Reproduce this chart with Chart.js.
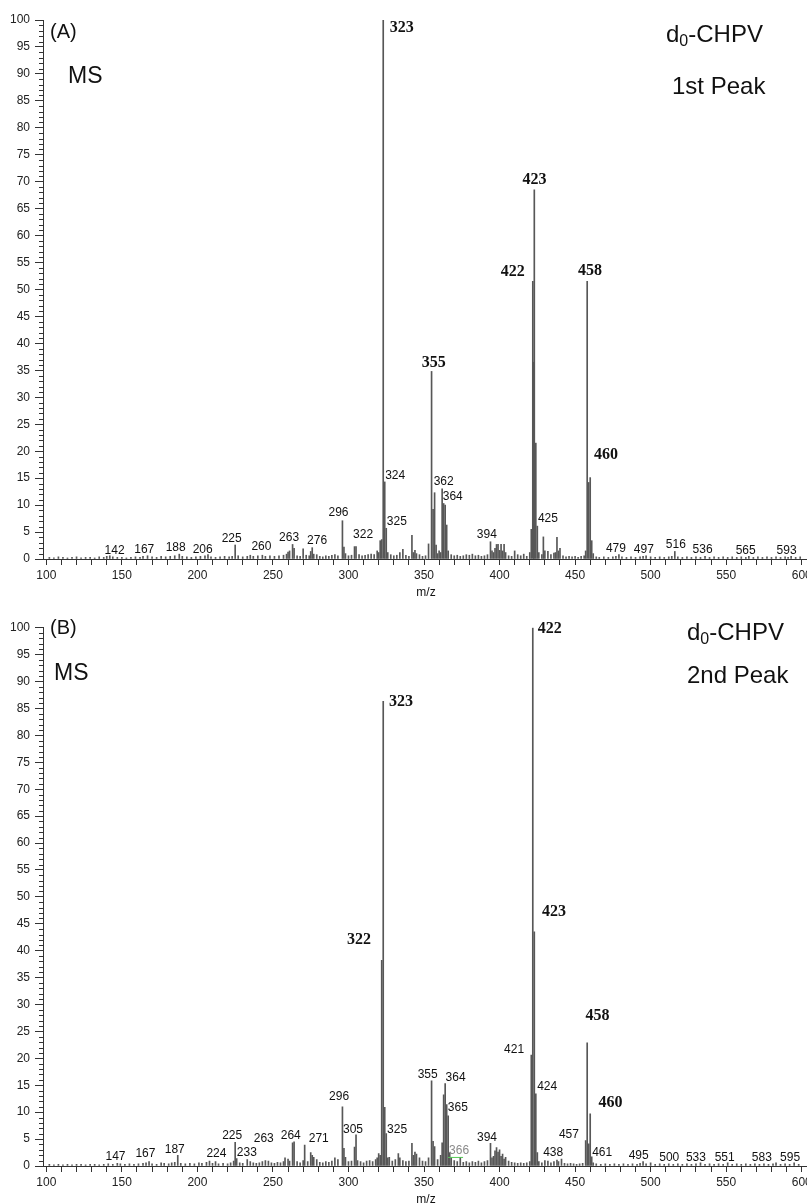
<!DOCTYPE html>
<html>
<head>
<meta charset="utf-8">
<script src="https://cdn.jsdelivr.net/npm/chart.js@4.4.0/dist/chart.umd.min.js"></script>
<style>
  html, body { margin: 0; padding: 0; background: #fff; }
  canvas { display: block; }
</style>
</head>
<body>
<canvas id="chartA" width="807" height="602"></canvas>
<canvas id="chartB" width="807" height="602"></canvas>
<script>
// axis tick labels
const xTickLabels = [100, 150, 200, 250, 300, 350, 400, 450, 500, 550, 600];
const yTickLabels = [0, 5, 10, 15, 20, 25, 30, 35, 40, 45, 50, 55, 60, 65, 70, 75, 80, 85, 90, 95, 100];

// (A) 1st peak: m/z and relative intensity
const mzA = [102,105,108,111,114,117,120,123,126,129,
  132,135,138,140,142,144,147,150,153,156,
  159,162,164,167,170,173,176,179,182,185,
  188,190,193,196,199,202,205,207,209,212,
  215,218,221,223,225,227,230,233,235,237,
  240,243,245,248,251,254,257,259,260,261,
  263,264,266,268,270,272,274,275,276,277,
  279,281,283,285,287,289,291,293,296,297,
  298,300,302,304,305,307,309,311,313,315,
  317,319,320,321,322,323,324,325,326,328,
  330,332,334,336,338,340,342,343,344,345,
  347,349,351,353,355,356,357,358,359,360,
  361,362,363,364,365,366,368,370,372,374,
  376,378,380,382,384,386,388,390,392,394,
  395,396,397,398,399,400,401,402,403,404,
  406,408,410,412,414,416,418,420,421,422,
  422.6,423,424,425,426,428,429,430,432,434,
  436,437,438,439,440,442,444,446,448,450,
  452,454,456,457,458,459,460,461,462,464,
  466,469,472,475,477,479,481,484,487,490,
  493,495,497,500,503,506,509,512,514,516,
  518,521,524,527,530,533,536,539,542,545,
  548,551,554,557,560,563,565,568,571,574,
  577,580,583,586,589,591,593,596,599];
const intA = [0.3,0.2,0.4,0.3,0.2,0.3,0.4,0.2,0.3,0.3,
  0.2,0.4,0.3,0.5,0.6,0.4,0.3,0.3,0.2,0.3,
  0.4,0.3,0.5,0.6,0.4,0.3,0.5,0.4,0.5,0.6,
  0.9,0.5,0.4,0.3,0.4,0.5,0.6,0.8,0.4,0.3,
  0.4,0.5,0.4,0.5,2.6,0.6,0.4,0.5,0.7,0.5,
  0.6,0.7,0.5,0.6,0.5,0.6,0.7,0.9,1.3,1.5,
  2.7,2.0,0.6,0.5,1.9,0.7,0.6,1.4,2.1,0.9,
  0.8,0.5,0.4,0.6,0.5,0.7,0.8,0.6,7.1,2.2,
  1.0,0.6,0.7,2.3,2.3,0.8,0.6,0.7,0.8,0.9,
  0.8,1.5,1.2,3.4,3.6,100,14.3,5.7,1.2,0.8,
  0.6,0.7,1.2,1.8,0.7,0.5,4.4,1.2,1.6,1.0,
  0.8,0.5,0.6,2.8,34.8,9.2,12.3,2.6,1.0,1.5,
  1.2,13.0,10.3,10.0,6.3,1.5,0.8,0.6,0.7,0.5,
  0.6,0.8,0.7,0.9,0.6,0.7,0.5,0.6,0.8,3.2,
  1.5,1.2,2.0,2.7,2.7,1.6,2.7,1.5,2.7,1.2,
  0.6,0.5,1.5,0.8,0.6,0.9,0.5,1.2,5.5,51.5,
  36.5,68.5,21.5,6.1,1.2,0.8,4.1,1.5,1.4,0.8,
  1.1,1.2,4.0,1.5,2.0,0.6,0.4,0.5,0.4,0.5,
  0.3,0.5,0.6,1.5,51.5,14.2,15.1,3.4,1.0,0.4,
  0.3,0.4,0.3,0.4,0.5,0.8,0.4,0.3,0.4,0.3,
  0.4,0.5,0.6,0.4,0.3,0.4,0.3,0.4,0.5,1.4,
  0.4,0.3,0.4,0.3,0.4,0.3,0.5,0.3,0.4,0.3,
  0.4,0.3,0.4,0.3,0.4,0.3,0.5,0.3,0.4,0.3,
  0.4,0.3,0.4,0.3,0.4,0.3,0.5,0.3,0.4];

// (B) 2nd peak
const mzB = [102,105,108,111,114,117,120,123,126,129,
  132,135,138,141,144,147,149,152,155,158,
  161,164,166,168,170,173,176,178,181,183,
  185,187,189,192,195,198,201,203,206,208,
  210,212,214,217,220,222,224,225,226,228,
  230,233,235,237,239,241,243,245,247,249,
  251,253,255,257,258,260,261,263,264,266,
  268,270,271,273,275,276,277,279,281,283,
  285,287,289,291,293,296,297,298,300,302,
  304,305,306,308,310,312,314,316,318,319,
  320,321,322,323,324,325,326,327,329,331,
  333,334,336,338,340,342,343,344,345,347,
  349,351,353,355,356,357,359,361,362,363,
  364,365,366,367,368,370,372,374,376,378,
  380,382,384,386,388,390,392,394,395,396,
  397,398,399,400,401,402,403,404,406,408,
  410,412,414,416,418,420,421,422,423,424,
  425,426,428,430,432,434,436,438,439,441,
  443,445,447,449,451,453,455,457,458,459,
  460,461,462,464,467,470,473,476,479,482,
  485,488,491,493,495,497,500,503,506,509,
  512,515,518,521,524,527,530,533,536,539,
  542,545,548,551,554,557,560,563,566,569,
  572,575,578,581,583,586,589,592,595,598];
const intB = [0.3,0.2,0.3,0.2,0.3,0.2,0.3,0.3,0.2,0.3,
  0.3,0.2,0.3,0.4,0.3,0.5,0.4,0.3,0.4,0.3,
  0.4,0.5,0.6,0.8,0.4,0.3,0.6,0.5,0.4,0.6,
  0.7,2.0,0.5,0.4,0.5,0.4,0.6,0.5,0.7,0.9,
  0.5,0.8,0.4,0.5,0.4,0.6,0.9,4.4,1.4,0.6,
  0.5,1.2,0.8,0.6,0.5,0.6,0.8,1.0,0.9,0.6,
  0.5,0.7,0.6,0.8,1.5,1.3,0.9,4.3,4.5,0.8,
  0.6,1.0,3.9,0.8,2.5,2.0,1.6,1.2,0.7,0.6,
  0.8,0.7,0.9,1.5,1.2,11.0,3.3,1.6,0.8,0.9,
  3.5,5.8,1.0,0.8,0.6,0.9,1.0,0.8,1.2,1.5,
  2.3,2.0,38.2,86.3,10.9,6.0,1.5,1.6,0.9,1.2,
  2.3,1.5,1.0,0.8,0.9,4.2,2.0,2.6,2.2,1.5,
  0.9,0.8,1.5,15.8,4.6,3.6,1.2,2.0,4.3,13.2,
  15.3,11.4,9.3,2.5,1.5,1.0,0.8,1.6,0.7,0.8,
  0.6,0.8,0.7,0.9,0.6,0.8,1.0,4.2,1.5,1.8,
  2.8,3.4,2.6,3.0,1.8,2.2,1.3,1.6,0.9,0.7,
  0.6,0.5,0.6,0.5,0.6,0.8,20.6,100,43.5,13.4,
  2.5,0.8,0.6,1.0,0.9,0.6,0.8,1.1,0.8,1.3,
  0.5,0.4,0.5,0.4,0.3,0.4,0.5,4.7,22.9,4.1,
  9.7,1.7,0.6,0.4,0.3,0.4,0.3,0.4,0.3,0.4,
  0.3,0.4,0.3,0.5,0.8,0.4,0.6,0.3,0.4,0.3,
  0.4,0.3,0.4,0.3,0.4,0.3,0.4,0.6,0.3,0.4,
  0.3,0.4,0.3,0.6,0.3,0.4,0.3,0.4,0.3,0.4,
  0.3,0.4,0.3,0.4,0.6,0.3,0.4,0.3,0.6,0.3];

// peak annotations: text, and where it sits (m/z, intensity)
const annTextA = ['142','167','188','206','225','260','263','276','296','322','323','324','325','355','362','364','394','422','423','425','458','460','479','497','516','536','565','593'];
const annMzA   = [145.2,164.8,185.6,203.5,222.7,242.4,260.7,279.2,293.4,309.7,335.3,330.9,332,356.5,363,369,391.6,408.8,423.2,432,459.8,470.4,477,495.5,516.7,534.4,562.9,590];
const annIntA  = [1.55,1.67,2.1,1.67,3.8,2.3,4.0,3.4,8.5,4.6,98.5,15.5,6.9,36.4,14.3,11.6,4.45,53.2,70.3,7.4,53.4,19.4,2.0,1.67,2.6,1.67,1.5,1.5];

const annTextB = ['147','167','187','224','225','233','263','264','271','296','305','322','323','325','355','364','365','366','394','421','422','423','424','438','457','458','460','461','495','500','533','551','583','595'];
const annMzB   = [145.8,165.6,185,212.6,223,232.7,243.9,261.8,280.3,293.8,303,306.9,334.8,332.2,352.4,370.9,372.4,373.2,391.7,409.6,433.3,436,431.5,435.5,445.9,464.8,473.4,467.9,492.1,512.3,530,549,573.6,592.3];
const annIntB  = [1.7,2.2,3.1,2.2,5.6,2.5,5.1,5.6,5.1,12.8,6.8,42.1,86.3,6.8,16.9,16.4,10.9,2.8,5.3,21.7,99.8,47.2,14.7,2.4,5.9,27.9,11.7,2.5,1.9,1.6,1.6,1.6,1.6,1.6];

const SANS = '"Liberation Sans", Arial, sans-serif';
const SERIF = '"Liberation Serif", "Times New Roman", serif';

const decor = {
  id: 'decor',
  afterDraw(chart) {
    const o = chart.options.plugins.decor;
    const ctx = chart.ctx;
    const x = chart.scales.x, y = chart.scales.y;
    ctx.save();

    // minor ticks on the intensity axis
    ctx.strokeStyle = '#333';
    ctx.lineWidth = 1;
    ctx.beginPath();
    for (let v = 0; v <= 100; v++) {
      if (v % 5 === 0) continue;
      const py = Math.round(y.getPixelForValue(v)) + 0.5;
      ctx.moveTo(x.left - 4, py);
      ctx.lineTo(x.left, py);
    }
    ctx.stroke();

    // peak labels
    ctx.textAlign = 'center';
    ctx.textBaseline = 'middle';
    o.texts.forEach((t, i) => {
      const bold = o.bold.includes(t);
      ctx.font = bold ? 'bold 16px ' + SERIF : '12px ' + SANS;
      ctx.fillStyle = t === o.faint ? '#8a8a8a' : '#111';
      const px = x.getPixelForValue(o.mz[i]);
      const py = y.getPixelForValue(o.val[i]);
      ctx.fillText(t, px, py);
      if (t === o.faint) {
        ctx.strokeStyle = '#5c5';
        ctx.beginPath();
        ctx.moveTo(px - 11, py + 6.5);
        ctx.lineTo(px + 4, py + 6.5);
        ctx.stroke();
      }
    });

    // panel texts
    ctx.textAlign = 'left';
    ctx.fillStyle = '#111';
    ctx.font = '20px ' + SANS;
    ctx.fillText(o.panel, 50, o.panelY);
    ctx.font = '23px ' + SANS;
    ctx.fillText('MS', o.msX, o.msY);
    ctx.font = '24px ' + SANS;
    ctx.fillText('d', o.nameX, o.nameY);
    let w = ctx.measureText('d').width;
    ctx.font = '16px ' + SANS;
    ctx.fillText('0', o.nameX + w, o.nameY + 7);
    w += ctx.measureText('0').width;
    ctx.font = '24px ' + SANS;
    ctx.fillText('-CHPV', o.nameX + w, o.nameY);
    ctx.fillText(o.peak, o.peakX, o.peakY);

    // axis title
    ctx.textAlign = 'center';
    ctx.font = '12px ' + SANS;
    ctx.fillText('m/z', (x.left + x.right) / 2 + 1, y.bottom + 34);
    ctx.restore();
  }
};

function makeChart(id, mz, inten, ann, topPad, xAxisHeight) {
  const minorX = [];
  for (let v = xTickLabels[0]; v <= xTickLabels[xTickLabels.length - 1]; v += 10) minorX.push(v);
  return new Chart(document.getElementById(id), {
    type: 'bar',
    data: {
      datasets: [{
        data: mz.map((m, i) => ({ x: m, y: inten[i] })),
        backgroundColor: '#575757',
        borderWidth: 0,
        barThickness: 1
      }]
    },
    options: {
      responsive: false,
      animation: false,
      layout: { padding: { top: topPad, left: 0, right: 0, bottom: 0 } },
      plugins: {
        legend: { display: false },
        tooltip: { enabled: false },
        decor: ann
      },
      scales: {
        x: {
          type: 'linear',
          min: 97.8,
          max: 603.5,
          offset: false,
          afterBuildTicks: s => { s.ticks = minorX.map(v => ({ value: v })); },
          afterFit: s => { s.height = xAxisHeight; s.paddingLeft = 0; s.paddingRight = 0; },
          grid: { display: true, drawOnChartArea: false, offset: false, tickLength: 6, color: '#333', tickColor: '#333' },
          border: { display: true, color: '#333', width: 1 },
          ticks: {
            autoSkip: false,
            maxRotation: 0,
            padding: 3,
            color: '#222',
            font: { family: SANS, size: 12 },
            callback: v => xTickLabels.includes(v) ? String(v) : ''
          }
        },
        y: {
          min: 0,
          max: 100,
          afterBuildTicks: s => { s.ticks = yTickLabels.map(v => ({ value: v })); },
          afterFit: s => { s.width = 43; s.paddingTop = 0; s.paddingBottom = 0; },
          grid: { display: true, drawOnChartArea: false, tickLength: 8, color: '#333', tickColor: '#333' },
          border: { display: true, color: '#333', width: 1 },
          ticks: {
            autoSkip: false,
            padding: 5,
            color: '#222',
            font: { family: SANS, size: 12 }
          }
        }
      }
    },
    plugins: [decor]
  });
}

makeChart('chartA', mzA, intA, {
  texts: annTextA, mz: annMzA, val: annIntA,
  bold: ['323', '355', '422', '423', '458', '460'], faint: null,
  panel: '(A)', panelY: 32, msX: 68, msY: 77,
  nameX: 666, nameY: 35, peak: '1st Peak', peakX: 672, peakY: 87
}, 20, 43);

makeChart('chartB', mzB, intB, {
  texts: annTextB, mz: annMzB, val: annIntB,
  bold: ['322', '323', '422', '423', '458', '460'], faint: '366',
  panel: '(B)', panelY: 26, msX: 54, msY: 72,
  nameX: 687, nameY: 31, peak: '2nd Peak', peakX: 687, peakY: 74
}, 25.7, 38);
</script>
</body>
</html>
